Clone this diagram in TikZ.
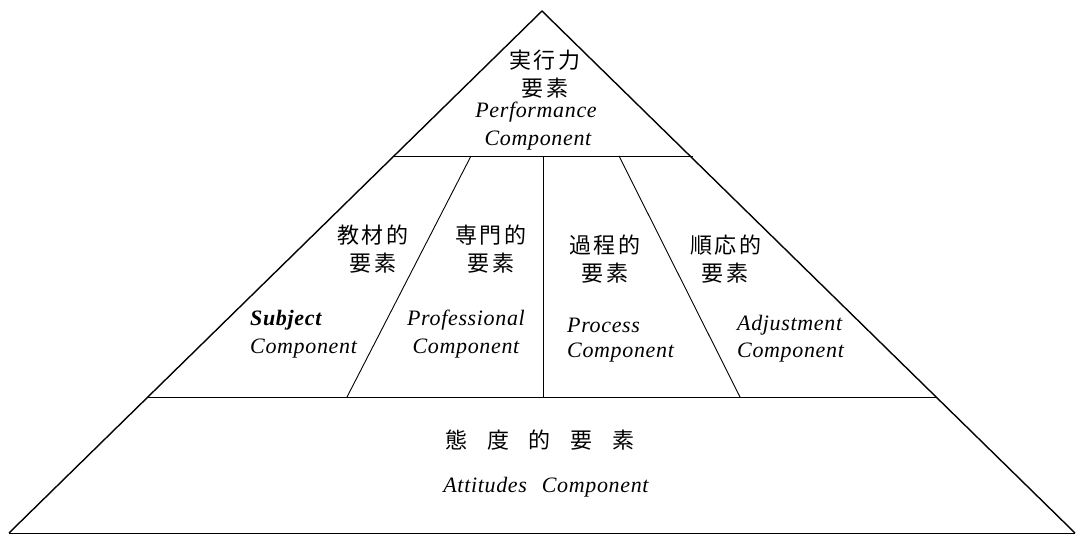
\documentclass[tikz,border=0pt]{standalone}
\usepackage{fontspec}
\setmainfont{Liberation Serif}
\newfontfamily\lsfont{Liberation Serif}[LetterSpace=3]
\newfontfamily\jp{Noto Sans CJK JP}[LetterSpace=12]
\begin{document}
\begin{tikzpicture}[x=1pt,y=-1pt,
  edge/.style={line width=1.4pt},
  rule/.style={line width=1pt},
  divline/.style={line width=0.9pt},
  jtxt/.style={inner sep=0pt, font=\jp\fontsize{22}{24}\selectfont},
  etxt/.style={inner sep=0pt, font=\lsfont\fontsize{22}{24}\selectfont\itshape},
]
\useasboundingbox (0,0) rectangle (1077,536);
\fill[white] (0,0) rectangle (1077,536);
\coordinate (apex) at (542,11);
\coordinate (bl) at (9,533);
\coordinate (br) at (1075,533);
\coordinate (ul) at (393,156);
\coordinate (ur) at (693,156);
\coordinate (ml) at (148,397);
\coordinate (mr) at (937,397);
\coordinate (d1t) at (471,156); \coordinate (d1b) at (347,397);
\coordinate (d2t) at (543,156); \coordinate (d2b) at (543,397);
\coordinate (d3t) at (619,156); \coordinate (d3b) at (740,397);
\draw[edge] (bl) -- (apex) -- (br);
\draw[rule] (bl) -- (br);
\draw[rule] (ul) -- (ur);
\draw[rule] (ml) -- (mr);
\draw[divline] (d1t) -- (d1b);
\draw[divline] (d2t) -- (d2b);
\draw[divline] (d3t) -- (d3b);
% top
\node[jtxt] (t1) at (545,60) {実行力};
\node[jtxt] (t2) at (545,88) {要素};
\node[etxt] (t3) at (536,112) {Performance};
\node[etxt] (t4) at (538,141) {Component};
% middle
\node[jtxt] (s1) at (373,235) {教材的};
\node[jtxt] (s2) at (373,263) {要素};
\node[etxt,anchor=west,font=\lsfont\fontsize{22}{24}\selectfont\bfseries\itshape] (s3) at (250,320) {Subject};
\node[etxt,anchor=west] (s4) at (250,349) {Component};
\node[jtxt] (p1) at (491,235) {専門的};
\node[jtxt] (p2) at (491,263) {要素};
\node[etxt] (p3) at (466,320) {Professional};
\node[etxt] (p4) at (466,349) {Component};
\node[jtxt] (r1) at (605,245) {過程的};
\node[jtxt] (r2) at (605,273) {要素};
\node[etxt,anchor=west] (r3) at (567,325) {Process};
\node[etxt,anchor=west] (r4) at (567,353) {Component};
\node[jtxt] (a1) at (726,245) {順応的};
\node[jtxt] (a2) at (725,273) {要素};
\node[etxt,anchor=west] (a3) at (737,325) {Adjustment};
\node[etxt,anchor=west] (a4) at (737,353) {Component};
% bottom
\node[jtxt] (b1) at (540,440) {態\hspace{0.9em}度\hspace{0.9em}的\hspace{0.9em}要\hspace{0.9em}素};
\node[etxt] (b2) at (546,487) {Attitudes\hspace{0.4em} Component};
\end{tikzpicture}
\end{document}
